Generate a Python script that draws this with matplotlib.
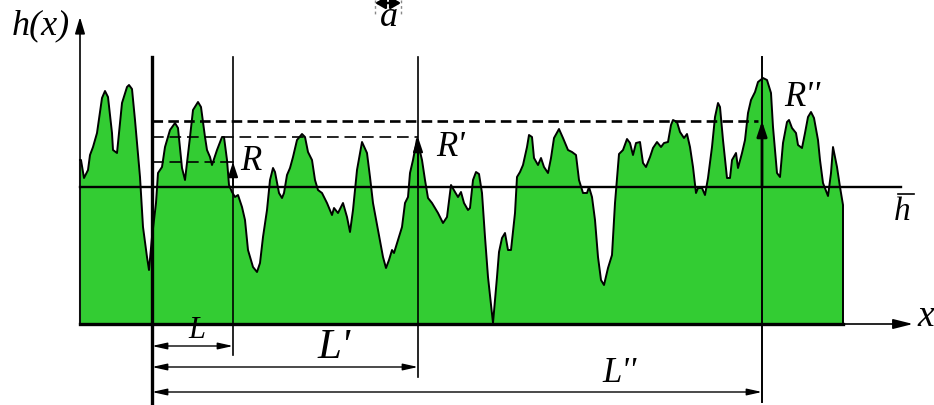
import matplotlib
matplotlib.use('Agg')
import matplotlib.pyplot as plt

# профиль поверхности, координаты в пикселях рисунка (y вниз)
prof_x = [80, 81, 84, 88, 90, 93, 97, 102, 105, 108, 112, 113, 117, 122, 127, 129, 132, 135, 140, 143,
          147, 149, 152, 156, 158, 162, 165, 170, 175, 178, 182, 185, 190, 193, 198, 201, 205, 207, 210, 212,
          217, 222, 224, 227, 229, 232, 235, 238, 242, 245, 248, 253, 257, 260, 263, 267, 270, 273, 275, 279,
          282, 284, 287, 290, 293, 297, 302, 305, 308, 312, 315, 318, 322, 327, 332, 334, 338, 343, 347, 350,
          353, 357, 362, 367, 370, 373, 378, 383, 386, 389, 392, 394, 398, 402, 405, 408, 410, 413, 417, 422,
          425, 428, 432, 438, 443, 447, 451, 455, 458, 461, 464, 468, 470, 473, 476, 479, 482, 485, 488, 493,
          497, 499, 502, 505, 508, 511, 515, 517, 520, 523, 527, 529, 532, 534, 538, 541, 544, 548, 551, 554,
          559, 563, 568, 572, 576, 579, 583, 587, 589, 592, 595, 598, 601, 604, 608, 612, 615, 619, 623, 627,
          630, 633, 636, 640, 643, 646, 650, 653, 657, 661, 664, 668, 671, 673, 677, 680, 684, 687, 690, 693,
          696, 698, 702, 705, 708, 712, 715, 718, 720, 723, 727, 730, 732, 736, 738, 742, 745, 748, 751, 755,
          758, 763, 767, 771, 773, 777, 780, 783, 787, 789, 792, 796, 798, 802, 805, 808, 811, 814, 818, 820,
          823, 828, 831, 833, 837, 840, 843]
prof_y = [160, 160, 178, 170, 155, 147, 133, 98, 91, 97, 133, 150, 153, 103, 87, 85, 89, 120, 177, 227,
          257, 270, 237, 203, 173, 167, 147, 130, 123, 128, 168, 180, 137, 110, 102, 107, 137, 150, 157, 165,
          150, 137, 137, 160, 185, 192, 197, 195, 207, 220, 250, 267, 272, 263, 237, 210, 180, 168, 172, 193,
          198, 193, 175, 168, 157, 140, 134, 137, 152, 160, 180, 190, 193, 203, 215, 208, 213, 203, 217, 232,
          210, 170, 142, 153, 177, 203, 230, 257, 268, 260, 250, 253, 240, 227, 203, 197, 173, 160, 139, 160,
          180, 198, 203, 213, 223, 217, 185, 192, 197, 192, 203, 210, 208, 180, 172, 174, 193, 237, 277, 323,
          277, 252, 238, 233, 250, 250, 213, 177, 172, 165, 147, 135, 137, 158, 165, 158, 167, 173, 158, 138,
          129, 138, 150, 152, 155, 180, 193, 193, 187, 197, 220, 257, 280, 285, 268, 255, 203, 154, 150, 139,
          143, 155, 143, 142, 163, 167, 157, 148, 142, 147, 143, 142, 125, 120, 122, 132, 138, 134, 147, 167,
          193, 188, 188, 195, 178, 147, 117, 103, 107, 140, 178, 178, 160, 153, 168, 153, 140, 113, 100, 92,
          82, 78, 80, 93, 127, 173, 177, 143, 122, 120, 128, 133, 145, 148, 133, 117, 112, 118, 140, 160,
          183, 196, 173, 147, 167, 187, 205]

base_y = 324      # ось x
mean_y = 187      # средняя линия h
x_L = [152, 233, 418, 762]      # вертикали: начало, L, L', L''
R_top = [162, 137, 121]         # уровни R, R', R''
green = '#33cc33'
font = 'Liberation Serif'

fig = plt.figure(figsize=(9.34, 4.05), dpi=100)
ax = fig.add_axes([0, 0, 1, 1])
ax.set_xlim(0, 934)
ax.set_ylim(405, 0)
ax.axis('off')

# заливка профиля
px = [prof_x[0]] + prof_x + [prof_x[-1]]
py = [base_y] + prof_y + [base_y]
ax.fill(px, py, color=green, lw=0, zorder=1)
ax.plot(px[1:], py[1:], color='k', lw=1.4, zorder=3)
ax.plot([80, 843], [base_y, base_y], color='k', lw=2.4, zorder=3)
ax.plot([80, 80], [base_y, prof_y[0]], color='#666666', lw=1.5, zorder=2)

# оси
ax.annotate('', xy=(80, 17), xytext=(80, base_y),
            arrowprops=dict(arrowstyle='-|>,head_width=0.3,head_length=1.0', color='k', lw=1.2,
                            shrinkA=0, shrinkB=0), zorder=4)
ax.annotate('', xy=(913, base_y), xytext=(843, base_y),
            arrowprops=dict(arrowstyle='-|>,head_width=0.3,head_length=1.2', color='k', lw=1.2,
                            shrinkA=0, shrinkB=0), zorder=4)

# средняя линия
ax.plot([80, 901], [mean_y, mean_y], color='k', lw=1.7, zorder=4)

# вертикальные линии
ax.plot([x_L[0], x_L[0]], [57, 405], color='k', lw=2.4, zorder=4)
ax.plot([x_L[1], x_L[1]], [57, 355], color='k', lw=1.2, zorder=4)
ax.plot([x_L[2], x_L[2]], [57, 377], color='k', lw=1.2, zorder=4)
ax.plot([x_L[3], x_L[3]], [57, 402], color='k', lw=1.4, zorder=4)

# пунктирные уровни
ax.plot([x_L[0], x_L[1] - 18], [R_top[0], R_top[0]], color='k', lw=1.2, dashes=(7, 3.5), zorder=4)
ax.plot([x_L[1] - 12, x_L[1]], [R_top[0], R_top[0]], color='k', lw=1.2, zorder=4)
ax.plot([x_L[0], x_L[2]], [R_top[1], R_top[1]], color='k', lw=1.2, dashes=(7, 3.5), zorder=4)
ax.plot([x_L[0], x_L[3] - 4], [R_top[2], R_top[2]], color='k', lw=1.9, dashes=(4, 2), zorder=4)

# стрелки R
for xv, yt, w in zip(x_L[1:], R_top, [1.3, 1.3, 2.0]):
    ax.annotate('', xy=(xv, yt), xytext=(xv, mean_y),
                arrowprops=dict(arrowstyle='-|>,head_width=0.3,head_length=0.9', color='k', lw=w,
                                shrinkA=0, shrinkB=0), zorder=5)

# размерные стрелки L
for xv, yv in zip(x_L[1:], [346, 367, 392]):
    ax.annotate('', xy=(xv, yv), xytext=(x_L[0], yv),
                arrowprops=dict(arrowstyle='<|-|>,head_width=0.2,head_length=0.9', color='k', lw=1.0,
                                shrinkA=0, shrinkB=0), zorder=5)

# масштаб a
ax.plot([375, 375], [0, 14], color='#888888', lw=1.0, dashes=(2, 2))
ax.plot([401, 401], [0, 14], color='#888888', lw=1.0, dashes=(2, 2))
ax.annotate('', xy=(401, 3), xytext=(375, 3),
            arrowprops=dict(arrowstyle='<|-|>,head_width=0.35,head_length=0.6', color='k', lw=1.8,
                            shrinkA=0, shrinkB=0))

# подписи
txt = dict(family=font, style='italic', ha='center', va='center', color='k')
ax.text(41, 26, 'h(x)', fontsize=26, **txt)
ax.text(926, 317, 'x', fontsize=27, **txt)
ax.text(389, 18, 'a', fontsize=26, **txt)
ax.text(902, 212, 'h', fontsize=24, **txt)
ax.plot([898, 914], [194, 194], color='k', lw=1.2)
ax.text(251, 162, 'R', fontsize=25, **txt)
ax.text(451, 147, "R'", fontsize=25, **txt)
ax.text(802, 97, "R''", fontsize=25, **txt)
ax.text(197, 330, 'L', fontsize=22, **txt)
ax.text(334, 348, "L'", fontsize=31, **txt)
ax.text(619, 374, "L''", fontsize=25, **txt)

fig.savefig('out.png', dpi=100)
